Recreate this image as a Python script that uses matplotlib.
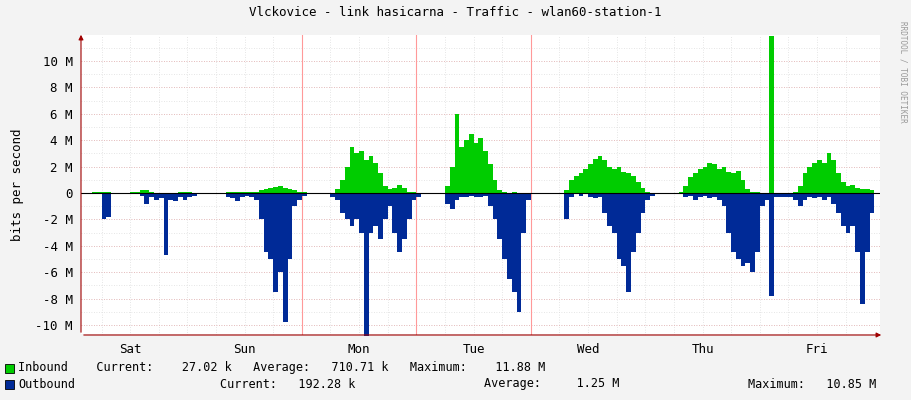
import numpy as np
import matplotlib
matplotlib.use("Agg")
import matplotlib.pyplot as plt

title = "Vlckovice - link hasicarna - Traffic - wlan60-station-1"
days = ["Sat", "Sun", "Mon", "Tue", "Wed", "Thu", "Fri"]
yticks = [-10, -8, -6, -4, -2, 0, 2, 4, 6, 8, 10]

# hourly values in Mbit/s, starting Sat 00:00
inbound = (
    [0,0,0,0,0.1,0.1,0.1,0.05,0,0,0,0,0.05,0.05,0.2,0.25,0.1,0,0,0,0,0,0.05,0.05] +
    [0.05,0,0,0,0,0,0,0,0.05,0.1,0.1,0.05,0.1,0.1,0.05,0.2,0.3,0.4,0.45,0.5,0.4,0.3,0.2,0.1] +
    [0.05,0,0,0,0,0,0,0.3,1.0,2.0,3.5,3.0,3.2,2.5,2.8,2.3,1.5,0.5,0.3,0.4,0.6,0.4,0.1,0.05] +
    [0,0,0,0,0,0,0.5,2.0,6.0,3.5,4.0,4.5,3.8,4.2,3.2,2.2,1.0,0.2,0.05,0,0.05,0,0,0] +
    [0,0,0,0,0,0,0,0.2,1.0,1.3,1.5,1.8,2.2,2.6,2.8,2.5,2.0,1.8,2.0,1.6,1.5,1.3,0.8,0.4] +
    [0.05,0,0,0,0,0,0,0.1,0.5,1.2,1.5,1.8,2.0,2.3,2.2,1.8,2.0,1.6,1.5,1.7,1.0,0.3,0.1,0.05] +
    [0,0,11.88,0,0,0,0,0.1,0.5,1.5,2.0,2.3,2.5,2.3,3.0,2.5,1.5,0.8,0.5,0.6,0.4,0.3,0.3,0.2]
)
outbound = (
    [0,0,0,0,0,0,-2.0,-1.8,0,0,0,0,0,0,-0.2,-0.8,-0.3,-0.5,-0.4,-4.7,-0.5,-0.6,-0.3,-0.5] +
    [-0.3,-0.2,0,0,0,0,0,0,-0.3,-0.4,-0.6,-0.3,-0.2,-0.3,-0.5,-2.0,-4.5,-5.0,-7.5,-6.0,-9.8,-5.0,-1.0,-0.5] +
    [-0.2,-0.1,0,0,0,0,-0.3,-0.5,-1.5,-2.0,-2.5,-2.0,-3.0,-10.85,-3.0,-2.5,-3.5,-2.0,-1.0,-3.0,-4.5,-3.5,-2.0,-0.5] +
    [-0.3,-0.1,0,0,0,0,-0.8,-1.2,-0.5,-0.3,-0.3,-0.2,-0.3,-0.3,-0.2,-1.0,-2.0,-3.5,-5.0,-6.5,-7.5,-9.0,-3.0,-0.5] +
    [-0.1,0,0,0,0,0,0,-2.0,-0.3,-0.1,-0.2,-0.1,-0.3,-0.4,-0.3,-1.5,-2.5,-3.0,-5.0,-5.5,-7.5,-4.5,-3.0,-1.5] +
    [-0.5,-0.2,0,0,0,0,0,-0.1,-0.3,-0.2,-0.5,-0.3,-0.2,-0.4,-0.3,-0.5,-1.0,-3.0,-4.5,-5.0,-5.5,-5.3,-6.0,-4.5] +
    [-1.0,-0.5,-7.8,-0.3,-0.3,-0.3,-0.3,-0.5,-1.0,-0.5,-0.3,-0.4,-0.3,-0.5,-0.3,-0.8,-1.5,-2.5,-3.0,-2.5,-4.5,-8.4,-4.5,-1.5]
)

fig = plt.figure(figsize=(9.11, 4.0), dpi=100, facecolor="#f3f3f3")
ax = fig.add_axes([81/911, 65/400, 799/911, 300/400])
ax.set_facecolor("white")
t = np.arange(len(inbound) + 1)
inb = np.array(inbound + [inbound[-1]])
outb = np.array(outbound + [outbound[-1]])
ax.fill_between(t, 0, inb, step="post", color="#00cc00", lw=0)
ax.fill_between(t, 0, outb, step="post", color="#002a97", lw=0)
ax.axhline(0, color="black", lw=0.8)

x0, x1 = 1.7, 169.2
ax.set_xlim(x0, x1)
ax.set_ylim(-10.76, 11.97)
# grids
for h in np.arange(6, 168, 6):
    ax.axvline(h, color="#dddddd", lw=0.6, ls=(0, (1, 2)), zorder=0)
for y in np.arange(-10, 12, 1):
    ax.axhline(y, color="#dddddd", lw=0.6, ls=(0, (1, 2)), zorder=0)
for y in yticks:
    ax.axhline(y, color="#e8b0b0", lw=0.6, ls=(0, (1, 2)), zorder=0)
for h in [48, 72, 96]:
    ax.axvline(h, color="#ff9999", lw=0.8, zorder=0)
ax.set_xticks([12 + 24*i for i in range(7)])
ax.set_xticklabels(days, fontsize=9, family="DejaVu Sans Mono")
ax.set_yticks(yticks)
ax.set_yticklabels([f"{v} M" if v != 0 else "0" for v in yticks], fontsize=9, family="DejaVu Sans Mono")
ax.tick_params(length=0, pad=6)
for s in ax.spines.values():
    s.set_visible(False)
ax.set_ylabel("bits per second", fontsize=9, family="DejaVu Sans Mono", labelpad=8)
ax.annotate("", xy=(1.005, 0), xycoords="axes fraction", xytext=(0, 0),
            arrowprops=dict(arrowstyle="-|>", color="#a00000", lw=0.8, mutation_scale=7))
ax.annotate("", xy=(0, 1.01), xycoords="axes fraction", xytext=(0, 0),
            arrowprops=dict(arrowstyle="-|>", color="#a00000", lw=0.8, mutation_scale=7))
ax.axhline(-10.76, color="black", lw=0.8)

fig.text(0.5, 1 - 12/400, title, ha="center", va="center", fontsize=9, family="DejaVu Sans Mono")
fig.text(903/911, 0.82, "RRDTOOL / TOBI OETIKER", rotation=270, ha="center", va="center",
         fontsize=5.5, color="#999999", family="DejaVu Sans Mono")

mono = dict(fontsize=8.5, family="DejaVu Sans Mono", va="center")
fig.patches.append(plt.Rectangle((5/911, 1-373/400), 9/911, 9/400, transform=fig.transFigure,
                                 facecolor="#00cc00", edgecolor="black", lw=0.6))
fig.patches.append(plt.Rectangle((5/911, 1-389/400), 9/911, 9/400, transform=fig.transFigure,
                                 facecolor="#002a97", edgecolor="black", lw=0.6))
fig.text(18/911, 1-368/400, "Inbound    Current:    27.02 k   Average:   710.71 k   Maximum:    11.88 M", **mono)
fig.text(18/911, 1-384/400, "Outbound", **mono)
fig.text(220/911, 1-384/400, "Current:   192.28 k", **mono)
fig.text(484/911, 1-384/400, "Average:     1.25 M", **mono)
fig.text(748/911, 1-384/400, "Maximum:   10.85 M", **mono)

fig.savefig("out.png", dpi=100, facecolor=fig.get_facecolor())
